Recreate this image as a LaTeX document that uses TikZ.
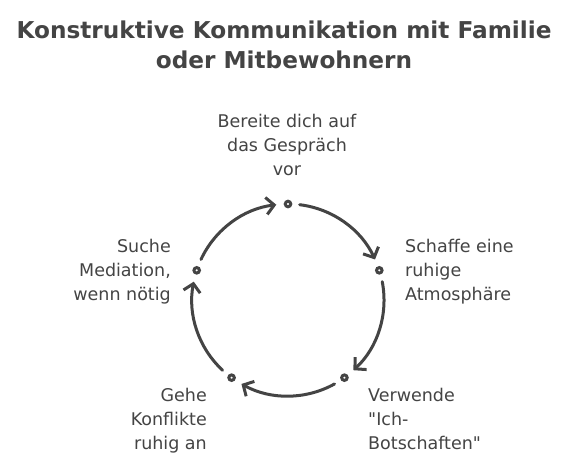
\documentclass[tikz,border=0pt]{standalone}
\usepackage{fontspec}
\setmainfont{DejaVu Sans}[Ligatures=TeXOff]
\usetikzlibrary{arrows.meta,calc}
\definecolor{ink}{HTML}{444444}
\begin{document}
\begin{tikzpicture}[x=1pt,y=-1pt,
  lbl/.style={text=ink,font=\fontsize{17.5}{24}\selectfont,inner sep=0pt},
  arc/.style={draw=ink,line width=3pt,line cap=round,-{Straight Barb[length=8pt,width=17pt,line width=3pt]}},
  dotn/.style={circle,draw=ink,line width=3pt,fill=white,minimum size=5.5pt,inner sep=0pt}]
\useasboundingbox[fill=white] (0,0) rectangle (576,468);
\coordinate (c) at (288,300);
\node[text=ink,font=\bfseries\fontsize{23.2}{30}\selectfont,align=center] (title) at (284,45)
  {Konstruktive Kommunikation mit Familie\\oder Mitbewohnern};
\foreach \a/\n in {90/p1,18/p2,-54/p3,-126/p4,162/p5}{
  \node[dotn] (\n) at ($(c)+(-\a:96)$) {};
}
\foreach \s/\e in {90/18,18/-54,-54/-126,-126/-198,162/90}{
  \draw[arc] ($(c)+(-\s+7:96)$) arc[start angle=-\s+7,end angle=-\e-7,radius=96];
}
\node[lbl,align=center,anchor=south] (t1) at (287,176) {Bereite dich auf\\das Gespräch\\vor};
\node[lbl,align=left,anchor=west] (t2) at (405,272) {Schaffe eine\\ruhige\\Atmosphäre};
\node[lbl,align=left,anchor=north west] (t3) at (368,388) {Verwende\\"Ich-\\Botschaften"};
\node[lbl,align=right,anchor=north east] (t4) at (207,388) {Gehe\\Konflikte\\ruhig an};
\node[lbl,align=right,anchor=east] (t5) at (171,272) {Suche\\Mediation,\\wenn nötig};
\end{tikzpicture}
\end{document}
